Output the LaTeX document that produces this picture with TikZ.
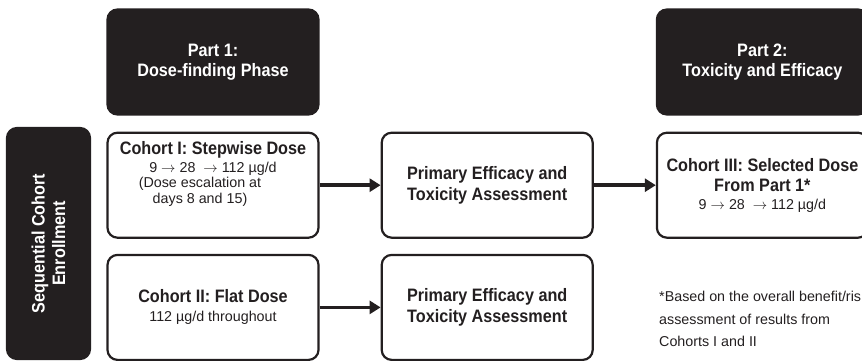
\documentclass[tikz,border=0pt]{standalone}
\usepackage{fontspec}
\setmainfont[FakeStretch=0.9]{Liberation Sans}
\newfontfamily\plainSans{Liberation Sans}
\usepackage{tikz}
\usetikzlibrary{positioning,arrows.meta}
\definecolor{trialBlack}{HTML}{231F20}
\newcommand{\boxTitle}[1]{{\normalfont\fontsize{18}{20.5}\selectfont\bfseries #1}}
\newcommand{\doseSteps}{9 $\rightarrow$ 28\ \ $\rightarrow$ 112 µg/d}
\tikzset{
  box/.style={draw=trialBlack, line width=2.2pt, rounded corners=10pt, minimum width=211pt, minimum height=105pt, align=center, text=trialBlack, inner sep=2pt},
  phaseBox/.style={box, fill=trialBlack, text=white, font=\fontsize{18}{20.5}\selectfont\bfseries},
  cohortBox/.style={box, font=\plainSans\fontsize{14.3}{15.5}\selectfont},
  assessBox/.style={box, font=\fontsize{18}{20.5}\selectfont\bfseries},
  arrow/.style={-{Triangle[length=11pt,width=13pt]}, line width=3.6pt, draw=trialBlack},
  footNote/.style={align=left, anchor=north west, inner sep=0pt, text=trialBlack, font=\plainSans\fontsize{14.3}{22.5}\selectfont}
}

\begin{document}
\begin{tikzpicture}[x=1pt, y=1pt]
  \useasboundingbox (0,0) rectangle (862,-361);
  \clip (0,0) rectangle (862,-361);

  % Part 1
  \node[phaseBox] (part1) at (213,-62) {Part 1:\\Dose-finding Phase};
  \node[cohortBox, below=16pt of part1] (c1) {};
  \node[below=8pt of c1.north, align=center, inner sep=2pt, text=trialBlack, font=\plainSans\fontsize{14.3}{15.5}\selectfont] (c1text)
    {\boxTitle{Cohort I: Stepwise Dose}\\[2pt]\doseSteps\\(Dose escalation at\makebox[26pt]{}\\days 8 and 15)\makebox[26pt]{}};
  \node[cohortBox, below=15pt of c1] (c2) {\boxTitle{Cohort II: Flat Dose}\\[3.5pt]112 µg/d throughout};

  \node[assessBox, right=61pt of c1] (p1) {Primary Efficacy and\\Toxicity Assessment};
  \node[assessBox, right=61pt of c2] (p2) {Primary Efficacy and\\Toxicity Assessment};

  % Part 2
  \node[cohortBox, right=62pt of p1] (c3) {\boxTitle{Cohort III: Selected Dose}\\[4.5pt]\boxTitle{From Part 1*}\\[2.5pt]\doseSteps};
  \node[phaseBox, above=16pt of c3] (part2) {Part 2:\\Toxicity and Efficacy};

  \node[phaseBox, rotate=90, minimum width=231pt, minimum height=83pt] (seq) at (48.5,-243.5) {Sequential Cohort\\Enrollment};

  \draw[arrow] (c1) -- (p1);
  \draw[arrow] (p1) -- (c3);
  \draw[arrow] (c2) -- (p2);

  \node[footNote] (note) at (659,-291) {*Based on the overall benefit/ris\\assessment of results from\\Cohorts I and II};
\end{tikzpicture}
\end{document}
